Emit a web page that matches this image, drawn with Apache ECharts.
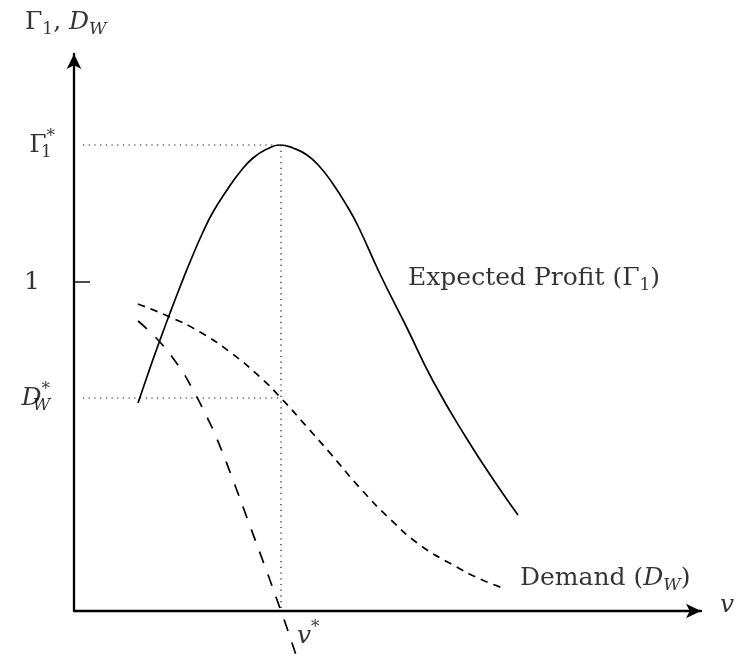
<!DOCTYPE html>
<html>
<head>
<meta charset="utf-8">
<script src="https://cdn.jsdelivr.net/npm/echarts@6/dist/echarts.min.js"></script>
<style>
  html, body { margin: 0; padding: 0; background: #fff; }
  #chart { width: 741px; height: 668px; }
</style>
</head>
<body>
<div id="chart"></div>
<script>
// curve samples (x = v, y = value)
const profitV = [64, 76, 86, 96, 106, 116, 129, 139, 153, 166, 179, 193, 206, 219, 233, 246, 259, 273, 284, 306, 333, 359, 393, 423, 444];
const profitY = [208, 243, 271, 298, 324, 349, 379, 399, 421, 439, 453, 462, 466, 463, 456, 444, 427, 405, 385, 337, 283, 230, 172, 126, 96];

const demandV = [64, 96, 126, 156, 186, 207, 233, 256, 286, 316, 346, 379, 406, 429];
const demandY = [307, 294, 279, 259, 234, 213, 184, 158, 123, 92, 66, 46, 32, 23];

const marginalV = [64, 85, 106, 119, 131, 143, 159, 176, 193, 207, 213, 223];
const marginalY = [290, 270, 243, 221, 198, 172, 131, 85, 39, 0, -17, -47];

// special levels
const vStar = 207;
const gammaStar = 466;
const oneLevel = 329;
const dwStar = 213;

const zip = (xs, ys) => xs.map((x, i) => [x, ys[i]]);

const serif = 'DejaVu Serif';
const base = { fontFamily: serif, color: '#000' };
const small = Object.assign({}, base, { fontSize: 17, lineHeight: 17 });
const rich = {
  rm: Object.assign({}, base, { fontSize: 25, lineHeight: 33 }),
  it: Object.assign({}, base, { fontSize: 25, lineHeight: 33, fontStyle: 'italic' }),
  txt: Object.assign({}, base, { fontSize: 25, lineHeight: 33 }),
  sub: Object.assign({}, small, { verticalAlign: 'bottom' }),
  subit: Object.assign({}, small, { verticalAlign: 'bottom', fontStyle: 'italic' }),
  subk: Object.assign({}, small, { verticalAlign: 'bottom', width: 0, align: 'left' }),
  subitk: Object.assign({}, small, { verticalAlign: 'bottom', fontStyle: 'italic', width: 0, align: 'left' }),
  sup: Object.assign({}, small, { verticalAlign: 'top', align: 'left' })
};

const labels = [
  { value: [-49, 589], text: '{rm|Γ}{sub|1}{rm|, }{it|D}{subit|W}', align: 'left' },
  { value: [-17, gammaStar], text: '{rm|Γ}{subk|1}{sup|*}', align: 'right', pad: 2 },
  { value: [-34, oneLevel], text: '{rm|1}', align: 'right' },
  { value: [-16, dwStar], text: '{it|D}{subitk|W}{sup|*}', align: 'right', pad: 8 },
  { value: [223, -25], text: '{it|v}{sup|*}', align: 'left' },
  { value: [646, 6], text: '{it|v}', align: 'left' },
  { value: [334, 333], text: '{txt|Expected Profit (}{rm|Γ}{sub|1}{txt|)}', align: 'left' },
  { value: [446, 33], text: '{txt|Demand (}{it|D}{subit|W}{txt|)}', align: 'left' }
];

const dotted = { color: '#111', width: 1.2, type: [1.2, 4.5] };

const chart = echarts.init(document.getElementById('chart'));
chart.setOption({
  animation: false,
  backgroundColor: '#fff',
  grid: { left: 74, right: 40, top: 54, bottom: 57 },
  xAxis: {
    type: 'value', min: 0, max: 627,
    axisLine: { show: true, onZero: false, symbol: ['none', 'arrow'], symbolSize: [11, 15],
      lineStyle: { color: '#000', width: 2.3 } },
    axisTick: { show: false }, axisLabel: { show: false }, splitLine: { show: false }
  },
  yAxis: {
    type: 'value', min: 0, max: 557,
    axisLine: { show: true, onZero: false, symbol: ['none', 'arrow'], symbolSize: [11, 15],
      lineStyle: { color: '#000', width: 2.3 } },
    axisTick: { show: false }, axisLabel: { show: false }, splitLine: { show: false }
  },
  series: [
    {
      name: 'Expected Profit', type: 'line', data: zip(profitV, profitY),
      smooth: true, showSymbol: false, clip: false,
      lineStyle: { color: '#000', width: 1.7 }
    },
    {
      name: 'Demand', type: 'line', data: zip(demandV, demandY),
      smooth: true, showSymbol: false, clip: false,
      lineStyle: { color: '#000', width: 1.7, type: [7.5, 6] }
    },
    {
      name: 'Marginal', type: 'line', data: zip(marginalV, marginalY),
      smooth: true, showSymbol: false, clip: false,
      lineStyle: { color: '#000', width: 1.7, type: [12, 12] }
    },
    {
      type: 'line', data: [[9, gammaStar], [vStar, gammaStar]], showSymbol: false,
      lineStyle: dotted
    },
    {
      type: 'line', data: [[9, dwStar], [vStar, dwStar]], showSymbol: false,
      lineStyle: dotted
    },
    {
      type: 'line', data: [[vStar, gammaStar], [vStar, 0]], showSymbol: false,
      lineStyle: dotted
    },
    {
      type: 'line', data: [[-16, oneLevel], [16, oneLevel]], showSymbol: false, clip: false,
      lineStyle: { color: '#000', width: 1.4 }
    },
    {
      type: 'scatter', symbolSize: 0, silent: true, clip: false,
      data: labels.map(l => ({
        value: l.value,
        label: {
          show: true, position: 'inside', formatter: l.text, rich: rich,
          align: l.align, verticalAlign: 'middle',
          padding: [0, l.pad || 0, 0, 0]
        }
      }))
    }
  ]
});
</script>
</body>
</html>
